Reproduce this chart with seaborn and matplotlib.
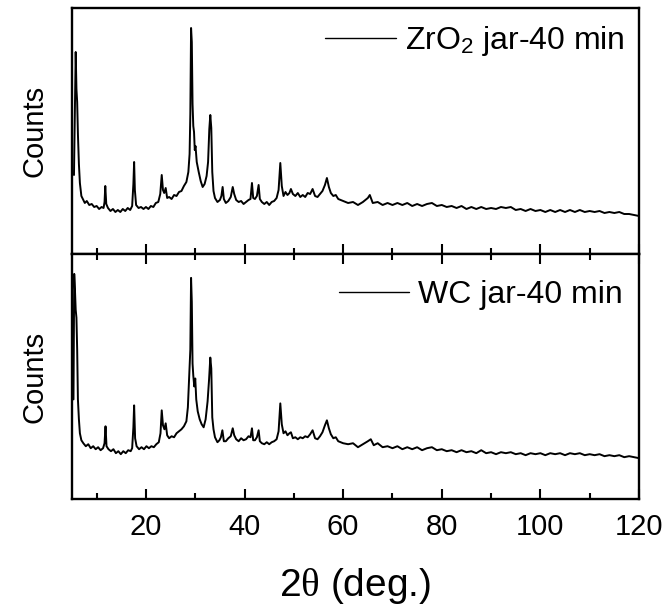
import numpy as np
import pandas as pd
import seaborn as sns
import matplotlib.pyplot as plt
from matplotlib.ticker import MultipleLocator

# XRD patterns (2theta in deg, counts in arbitrary units)
ZRO2_THETA = [5.4, 5.6, 5.75, 5.9, 6.05, 6.2, 6.4, 6.6, 6.9, 7.2, 7.6, 8.0, 8.5, 9.0, 9.5, 10.0, 10.5, 11.0, 11.4,
              11.6, 11.75, 11.95, 12.3, 12.8, 13.3, 13.8, 14.3, 14.8, 15.3, 15.8, 16.3, 16.8, 17.2, 17.45, 17.6,
              17.75, 18.0, 18.5, 19.0, 19.5, 20.0, 20.5, 21.0, 21.5, 22.0, 22.5, 22.9, 23.2, 23.45, 23.7, 24.0,
              24.3, 24.7, 25.2, 25.7, 26.2, 26.7, 27.2, 27.7, 28.2, 28.6, 28.85, 29.0, 29.15, 29.3, 29.45, 29.6,
              29.75, 29.9, 30.05, 30.3, 30.7, 31.1, 31.5, 31.9, 32.3, 32.6, 32.85, 33.05, 33.25, 33.45, 33.7, 34.0,
              34.5, 35.0, 35.3, 35.55, 35.8, 36.2, 36.7, 37.2, 37.6, 37.9, 38.3, 38.8, 39.3, 39.8, 40.3, 40.8,
              41.2, 41.5, 41.75, 42.1, 42.5, 42.85, 43.1, 43.5, 44.0, 44.5, 45.0, 45.5, 46.0, 46.5, 46.9, 47.25,
              47.55, 47.9, 48.3, 48.7, 49.1, 49.4, 49.8, 50.3, 50.8, 51.3, 51.8, 52.3, 52.8, 53.3, 53.8, 54.3,
              54.8, 55.3, 55.8, 56.3, 56.7, 57.1, 57.5, 58.0, 58.5, 59.0, 59.5, 60, 61, 62, 63, 64, 65, 65.4, 66,
              67, 68, 69, 70, 71, 72, 73, 74, 75, 76, 77, 78, 79, 80, 81, 82, 83, 84, 85, 86, 87, 88, 89, 90, 91,
              92, 93, 94, 95, 96, 97, 98, 99, 100, 101, 102, 103, 104, 105, 106, 107, 108, 109, 110, 111, 112,
              113, 114, 115, 116, 117, 118, 119, 120]
ZRO2_COUNTS = [79, 150, 202, 165, 152, 120, 90, 71, 58, 55, 51, 53, 49, 50, 47, 48, 45, 47, 46,
               52, 68, 50, 46, 43, 45, 42, 44, 42, 45, 43, 46, 44, 48, 70, 92,
               64, 49, 46, 47, 45, 47, 45, 48, 47, 51, 52, 60, 79, 64, 61, 66,
               56, 57, 55, 59, 58, 62, 63, 68, 72, 82, 100, 140, 226, 212, 150, 128,
               122, 104, 108, 92, 82, 73, 67, 70, 78, 92, 125, 139, 126, 82, 63, 56,
               52, 54, 58, 67, 55, 51, 53, 57, 67, 60, 54, 52, 53, 50, 52, 54,
               55, 71, 56, 55, 58, 69, 55, 52, 50, 52, 49, 52, 53, 56, 64, 91,
               68, 58, 62, 59, 61, 65, 60, 58, 61, 57, 59, 57, 61, 60, 65, 58,
               57, 60, 63, 69, 76, 67, 61, 58, 59, 55, 54, 53, 51, 52, 49, 52, 56, 59, 51,
               52, 49, 51, 49, 51, 49, 51, 48, 50, 48, 50, 51, 48, 49, 47, 48, 46, 48, 45, 47, 45, 47, 45, 46, 45,
               47, 46, 47, 44, 45, 43, 45, 43, 44, 42, 44, 42, 44, 42, 44, 42, 44, 42, 43, 42, 43,
               41, 42, 41, 42, 40, 40, 39, 38]

WC_THETA = [5.3, 5.45, 5.6, 5.75, 5.9, 6.05, 6.2, 6.4, 6.6, 6.9, 7.3, 7.8, 8.3, 8.8, 9.3, 9.8, 10.3, 10.8, 11.3,
            11.6, 11.8, 12.0, 12.4, 12.9, 13.4, 13.9, 14.4, 14.9, 15.4, 15.9, 16.4, 16.9, 17.2, 17.45, 17.6,
            17.8, 18.1, 18.6, 19.1, 19.6, 20.1, 20.6, 21.1, 21.6, 22.1, 22.6, 22.95, 23.2, 23.45, 23.75, 24.0,
            24.3, 24.7, 25.2, 25.7, 26.2, 26.7, 27.2, 27.7, 28.2, 28.5, 28.75, 29.0, 29.15, 29.3, 29.45, 29.6,
            29.8, 30.0, 30.2, 30.5, 30.9, 31.3, 31.7, 32.1, 32.5, 32.8, 33.05, 33.25, 33.45, 33.7, 34.0, 34.5,
            34.9, 35.2, 35.5, 35.8, 36.2, 36.7, 37.2, 37.6, 37.9, 38.3, 38.8, 39.3, 39.8, 40.3, 40.8, 41.2,
            41.5, 41.75, 42.1, 42.5, 42.85, 43.1, 43.5, 44.0, 44.5, 45.0, 45.5, 46.0, 46.5, 46.9, 47.25, 47.55,
            47.9, 48.3, 48.7, 49.1, 49.4, 49.8, 50.3, 50.8, 51.3, 51.8, 52.3, 52.8, 53.3, 53.8, 54.3, 54.8,
            55.3, 55.8, 56.3, 56.7, 57.1, 57.5, 58.0, 58.5, 59.0, 59.5, 60, 61, 62, 63, 64, 65, 65.6, 66.2, 67,
            68, 69, 70, 71, 72, 73, 74, 75, 76, 77, 78, 79, 80, 81, 82, 83, 84, 85, 86, 87, 88, 89, 90, 91, 92,
            93, 94, 95, 96, 97, 98, 99, 100, 101, 102, 103, 104, 105, 106, 107, 108, 109, 110, 111, 112, 113,
            114, 115, 116, 117, 118, 119, 120]
WC_COUNTS = [100, 226, 210, 190, 182, 150, 100, 80, 66, 59, 56, 53, 55, 51, 53, 50, 52, 49, 51,
             56, 73, 53, 50, 48, 50, 46, 48, 45, 48, 46, 49, 48, 51, 72, 94,
             61, 53, 50, 52, 50, 53, 51, 53, 52, 55, 57, 66, 89, 74, 70, 76,
             64, 61, 63, 62, 66, 68, 70, 73, 78, 92, 120, 150, 222, 198, 136, 124,
             113, 121, 100, 88, 80, 75, 72, 80, 98, 120, 142, 131, 82, 70, 62, 57,
             59, 62, 69, 58, 58, 61, 63, 71, 64, 60, 58, 61, 59, 60, 63, 62,
             71, 59, 59, 62, 69, 58, 56, 55, 57, 55, 57, 58, 60, 68, 96, 75,
             66, 68, 64, 66, 67, 61, 62, 60, 62, 61, 63, 62, 65, 69, 61, 60,
             63, 67, 74, 79, 71, 65, 61, 62, 58, 57, 56, 55, 56, 52, 55, 58, 60, 54, 56,
             52, 53, 51, 53, 50, 52, 50, 52, 49, 51, 52, 49, 50, 48, 49, 47, 49, 47, 48, 46, 49, 46, 47, 45, 47,
             46, 47, 45, 46, 44, 46, 45, 46, 44, 46, 45, 46, 44, 46, 45, 46, 44, 45, 44, 45, 43,
             44, 43, 44, 42, 43, 42, 41]

SERIES = [("ZrO$_2$ jar-40 min", ZRO2_THETA, ZRO2_COUNTS),
          ("WC jar-40 min", WC_THETA, WC_COUNTS)]
XTICKS = [20, 40, 60, 80, 100, 120]

sns.set_style("ticks")
plt.rcParams["font.family"] = ["Liberation Sans", "DejaVu Sans"]
plt.rcParams["mathtext.fontset"] = "custom"
plt.rcParams["mathtext.rm"] = "Liberation Sans"
plt.rcParams["mathtext.it"] = "Liberation Serif"
plt.rcParams["text.color"] = "black"
plt.rcParams["axes.labelcolor"] = "black"
plt.rcParams["xtick.color"] = "black"
plt.rcParams["axes.edgecolor"] = "black"

fig = plt.figure(figsize=(6.68, 6.10), dpi=100)
left, width = 72 / 668, 567 / 668
ax_top = fig.add_axes([left, 1 - 254 / 610, width, 246 / 610])
ax_bot = fig.add_axes([left, 1 - 499 / 610, width, 245 / 610])

legend_pos = [(0.975, 0.867), (0.972, 0.833)]
for ax, (name, theta, counts), lpos in zip([ax_top, ax_bot], SERIES, legend_pos):
    df = pd.DataFrame({"theta": theta, "counts": counts})
    sns.lineplot(data=df, x="theta", y="counts", ax=ax, color="black", lw=1.4,
                 label=name, estimator=None, sort=False)
    ax.set_xlim(5, 120)
    ax.set_ylim(0, 246)
    ax.set_yticks([])
    ax.set_ylabel("Counts", fontsize=21, labelpad=17)
    ax.set_xlabel("")
    ax.xaxis.set_major_locator(MultipleLocator(20))
    ax.xaxis.set_minor_locator(MultipleLocator(10))
    ax.tick_params(axis="x", which="major", direction="in", length=7, width=1.5,
                   labelsize=21, pad=10)
    ax.tick_params(axis="x", which="minor", direction="in", length=4, width=1.5)
    for sp in ax.spines.values():
        sp.set_linewidth(1.7)
    leg = ax.legend(loc="center right", bbox_to_anchor=lpos, frameon=False, fontsize=23,
                    handlelength=2.2, handletextpad=0.3, borderpad=0, borderaxespad=0)
    for h in leg.get_lines():
        h.set_linewidth(1.0)

ax_top.tick_params(axis="x", labelbottom=False)
ax_bot.tick_params(axis="x", which="both", top=True)
ax_bot.set_xticks(XTICKS)
ax_bot.set_xlabel(r"2$\theta$ (deg.)", fontsize=28, labelpad=18)

fig.savefig("out.png", dpi=100)
